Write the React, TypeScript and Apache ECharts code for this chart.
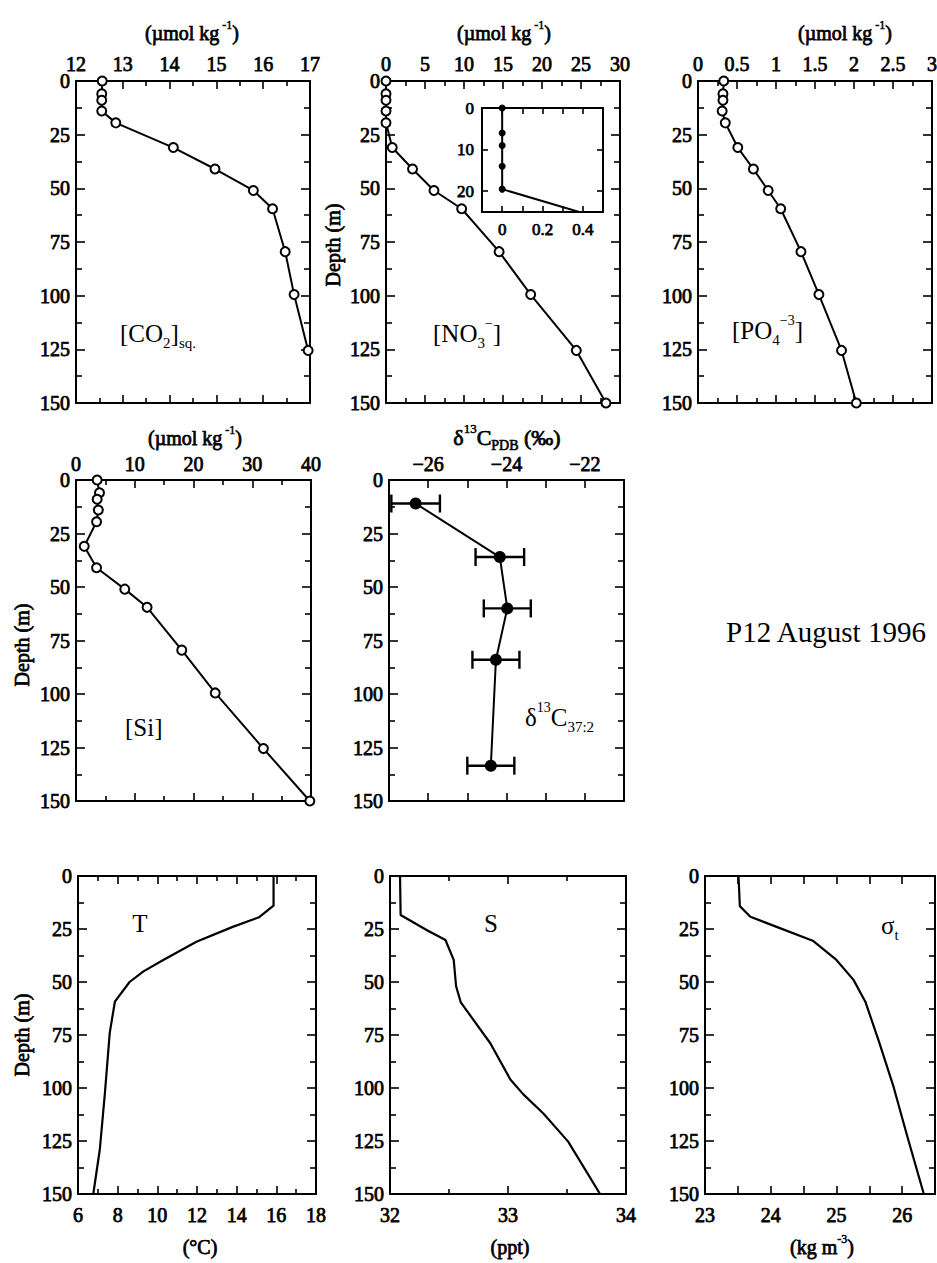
import React, { useEffect, useRef } from "react";
import * as echarts from "echarts";

// ---------------- data ----------------
const DEPTH = [0, 6, 9, 14, 19.5, 31, 41, 51, 59.5, 79.5, 99.5, 125.5, 150];
const CO2 = [12.56, 12.55, 12.55, 12.55, 12.85, 14.08, 14.97, 15.79, 16.2, 16.47, 16.66, 16.96, null];
const NO3 = [0, 0, 0, 0, 0, 0.8, 3.4, 6.15, 9.7, 14.5, 18.55, 24.4, 28.2];
const PO4 = [0.33, 0.32, 0.32, 0.31, 0.35, 0.51, 0.71, 0.9, 1.06, 1.32, 1.55, 1.84, 2.03];
const SI = [3.6, 4.0, 3.6, 3.8, 3.5, 1.4, 3.5, 8.3, 12.1, 18.0, 23.7, 31.9, 39.8];
const INSET_DEPTH = [0, 6, 9, 14, 19.5, 31];
const INSET_NO3 = [0, 0, 0, 0, 0, 0.8];

const D13C_DEPTH = [11, 36, 60, 84, 133.5];
const D13C = [-26.32, -24.17, -23.98, -24.27, -24.4];
const D13C_ERR = [0.62, 0.62, 0.6, 0.6, 0.6];

const T_DEPTH = [0, 14, 19.5, 24, 31, 39.6, 45, 50, 59.3, 74, 102, 129, 150];
const T_VAL = [15.86, 15.86, 15.12, 13.8, 11.97, 10.3, 9.3, 8.6, 7.86, 7.6, 7.36, 7.1, 6.77];
const S_DEPTH = [0, 18.4, 25.5, 30.2, 39.6, 52, 59.6, 78.9, 96, 103, 112, 125.3, 150];
const S_VAL = [32.085, 32.09, 32.31, 32.47, 32.54, 32.56, 32.6, 32.85, 33.02, 33.13, 33.3, 33.51, 33.78];
const SIG_DEPTH = [0, 14.2, 19.2, 24, 30.5, 39.6, 49, 59.3, 77.4, 99.5, 123, 150];
const SIG_VAL = [23.51, 23.53, 23.69, 24.09, 24.64, 25.0, 25.26, 25.44, 25.64, 25.87, 26.08, 26.33];

// tick labels
const DEPTH_TICKS = [0, 25, 50, 75, 100, 125, 150];
const CO2_TICKS = [12, 13, 14, 15, 16, 17];
const NO3_TICKS = [0, 5, 10, 15, 20, 25, 30];
const PO4_TICKS = [0, 0.5, 1, 1.5, 2, 2.5, 3];
const SI_TICKS = [0, 10, 20, 30, 40];
const D13C_TICKS = [-26, -24, -22];
const T_TICKS = [6, 8, 10, 12, 14, 16, 18];
const S_TICKS = [32, 33, 34];
const SIG_TICKS = [23, 24, 25, 26];
const INSET_X_TICKS = [0, 0.2, 0.4];
const INSET_Y_TICKS = [0, 10, 20];

// ---------------- styling helpers ----------------
const FONT = "Liberation Serif";
const INK = "#000";
const BOLD_W = 0.75; // simulated heavy scan weight (stroke around glyphs)

type Rng = { min: number; max: number; step: number; minor: number; ticks: number[]; len: number };

function fmt(v: number) {
  const r = Math.round(v * 1000) / 1000;
  return r < 0 ? "\u2212" + String(-r) : String(r);
}

function axis(gi: number, r: Rng, pos: string, showLabel: boolean, inverse: boolean, margin: number, fontSize: number) {
  const has = (v: number) => r.ticks.some((t) => Math.abs(t - v) < 1e-6);
  return {
    type: "value",
    gridIndex: gi,
    position: pos,
    min: r.min,
    max: r.max,
    interval: r.step,
    inverse,
    axisLine: { show: true, onZero: false, lineStyle: { color: INK, width: 2 } },
    axisTick: { show: true, inside: true, length: r.len, lineStyle: { color: INK, width: 1.6 } },
    minorTick: {
      show: r.minor > 1,
      splitNumber: r.minor,
      length: Math.round(r.len * 0.65),
      lineStyle: { color: INK, width: 1.6 },
    },
    splitLine: { show: false },
    minorSplitLine: { show: false },
    axisLabel: {
      show: showLabel,
      margin,
      color: INK,
      fontFamily: FONT,
      fontSize,
      lineHeight: Math.round(fontSize * 0.8),
      fontWeight: "normal",
      textBorderColor: INK,
      textBorderWidth: BOLD_W,
      showMinLabel: true,
      showMaxLabel: true,
      formatter: (v: number) => (has(v) ? fmt(v) : ""),
    },
  };
}

function buildOption() {
  const opt: any = {
    animation: false,
    backgroundColor: "#fff",
    grid: [],
    xAxis: [],
    yAxis: [],
    series: [],
    graphic: [],
  };

  const DEPTH_R: Rng = { min: 0, max: 150, step: 25, minor: 2, ticks: DEPTH_TICKS, len: 9 };

  function panel(box: any, xr: Rng, yr: Rng, xPos: "top" | "bottom", xMargin: number, yMargin: number, fs: number) {
    const gi = opt.grid.length;
    opt.grid.push({ ...box, show: true, backgroundColor: "#fff", borderWidth: 0, containLabel: false, outerBoundsMode: "none" });
    const xi = opt.xAxis.length;
    opt.xAxis.push(axis(gi, xr, xPos, true, false, xMargin, fs));
    opt.xAxis.push(axis(gi, xr, xPos === "top" ? "bottom" : "top", false, false, 0, fs));
    const yi = opt.yAxis.length;
    opt.yAxis.push(axis(gi, yr, "left", true, true, yMargin, fs));
    opt.yAxis.push(axis(gi, yr, "right", false, true, 0, fs));
    return { xi, yi };
  }

  const openSym = {
    symbol: "circle",
    symbolSize: 9,
    itemStyle: { color: "#fff", borderColor: INK, borderWidth: 2 },
  };

  function profile(ax: any, xs: (number | null)[], ys: number[], extra: any) {
    const data = ys.map((d, i) => [xs[i], d]).filter((p) => p[0] !== null && p[0] !== undefined);
    opt.series.push({
      type: "line",
      xAxisIndex: ax.xi,
      yAxisIndex: ax.yi,
      data,
      silent: true,
      clip: false,
      lineStyle: { color: INK, width: 2 },
      symbol: "none",
      ...extra,
    });
  }

  const FS = 20;

  // top row
  const aCO2 = panel({ left: 76, top: 81, width: 234, height: 322 }, { min: 12, max: 17, step: 1, minor: 2, ticks: CO2_TICKS, len: 8 }, DEPTH_R, "top", 9, 6, FS);
  profile(aCO2, CO2, DEPTH, openSym);

  const aNO3 = panel({ left: 386, top: 81, width: 234, height: 322 }, { min: 0, max: 30, step: 5, minor: 2, ticks: NO3_TICKS, len: 8 }, DEPTH_R, "top", 9, 6, FS);
  profile(aNO3, NO3, DEPTH, openSym);

  const aPO4 = panel({ left: 698, top: 81, width: 234, height: 322 }, { min: 0, max: 3, step: 0.5, minor: 2, ticks: PO4_TICKS, len: 8 }, DEPTH_R, "top", 9, 6, FS);
  profile(aPO4, PO4, DEPTH, openSym);

  // inset
  const aIn = panel(
    { left: 482, top: 108, width: 121, height: 104 },
    { min: -0.1, max: 0.5, step: 0.1, minor: 1, ticks: INSET_X_TICKS, len: 6 },
    { min: 0, max: 25, step: 10, minor: 1, ticks: INSET_Y_TICKS, len: 6 },
    "bottom",
    10,
    8,
    17
  );
  profile(aIn, INSET_NO3, INSET_DEPTH, {
    clip: true,
    symbol: "circle",
    symbolSize: 7,
    itemStyle: { color: INK },
  });

  // middle row
  const aSi = panel({ left: 76, top: 480, width: 235, height: 321 }, { min: 0, max: 40, step: 10, minor: 2, ticks: SI_TICKS, len: 8 }, DEPTH_R, "top", 8, 6, FS);
  profile(aSi, SI, DEPTH, openSym);

  const aC = panel({ left: 389, top: 480, width: 235, height: 321 }, { min: -27, max: -21, step: 1, minor: 1, ticks: D13C_TICKS, len: 8 }, DEPTH_R, "top", 8, 6, FS);
  opt.series.push({
    type: "custom",
    xAxisIndex: aC.xi,
    yAxisIndex: aC.yi,
    silent: true,
    clip: false,
    data: D13C.map((v, i) => [v, D13C_DEPTH[i], D13C_ERR[i]]),
    encode: { x: 0, y: 1 },
    renderItem: (_p: any, api: any) => {
      const x = api.value(0);
      const y = api.value(1);
      const e = api.value(2);
      const a = api.coord([x - e, y]);
      const b = api.coord([x + e, y]);
      const st = { stroke: INK, lineWidth: 2.4 };
      return {
        type: "group",
        children: [
          { type: "line", shape: { x1: a[0], y1: a[1], x2: b[0], y2: b[1] }, style: st },
          { type: "line", shape: { x1: a[0], y1: a[1] - 9, x2: a[0], y2: a[1] + 9 }, style: st },
          { type: "line", shape: { x1: b[0], y1: b[1] - 9, x2: b[0], y2: b[1] + 9 }, style: st },
        ],
      };
    },
  });
  profile(aC, D13C, D13C_DEPTH, { symbol: "circle", symbolSize: 12, itemStyle: { color: INK }, z: 3 });

  // bottom row
  const aT = panel({ left: 78, top: 876, width: 238, height: 318 }, { min: 6, max: 18, step: 2, minor: 2, ticks: T_TICKS, len: 8 }, DEPTH_R, "bottom", 13, 6, FS);
  profile(aT, T_VAL, T_DEPTH, { lineStyle: { color: INK, width: 2.2 } });

  const aS = panel({ left: 390, top: 876, width: 236, height: 318 }, { min: 32, max: 34, step: 1, minor: 2, ticks: S_TICKS, len: 8 }, DEPTH_R, "bottom", 13, 6, FS);
  profile(aS, S_VAL, S_DEPTH, { lineStyle: { color: INK, width: 2.2 } });

  const aSig = panel({ left: 705, top: 876, width: 230, height: 318 }, { min: 23, max: 26.5, step: 0.5, minor: 1, ticks: SIG_TICKS, len: 8 }, DEPTH_R, "bottom", 13, 6, FS);
  profile(aSig, SIG_VAL, SIG_DEPTH, { lineStyle: { color: INK, width: 2.2 } });

  // ---------------- texts ----------------
  const RL = {
    b: { fontFamily: FONT, fontSize: 25, fill: INK, lineHeight: 34 },
    sub: { fontFamily: FONT, fontSize: 15, fill: INK, lineHeight: 16, verticalAlign: "bottom" },
    sup: { fontFamily: FONT, fontSize: 14, fill: INK, lineHeight: 16, verticalAlign: "top" },
  };
  const bold = { stroke: INK, lineWidth: BOLD_W };
  const RU = {
    u: { fontFamily: FONT, fontSize: 20, fill: INK, lineHeight: 28, ...bold },
    us: { fontFamily: FONT, fontSize: 12, fill: INK, lineHeight: 13, verticalAlign: "top", stroke: INK, lineWidth: 0.5 },
    ub: { fontFamily: FONT, fontSize: 12, fill: INK, lineHeight: 13, verticalAlign: "bottom", stroke: INK, lineWidth: 0.5 },
  };
  const RC = {
    u: { fontFamily: FONT, fontSize: 22, fill: INK, lineHeight: 30, ...bold },
    us: { fontFamily: FONT, fontSize: 13, fill: INK, lineHeight: 14, verticalAlign: "top", stroke: INK, lineWidth: 0.5 },
    ub: { fontFamily: FONT, fontSize: 14, fill: INK, lineHeight: 14, verticalAlign: "bottom", stroke: INK, lineWidth: 0.6 },
  };

  function rt(x: number, y: number, text: string, rich: any, align = "left", rotation = 0) {
    return {
      type: "text",
      x,
      y,
      rotation,
      silent: true,
      style: {
        text,
        rich,
        align,
        textAlign: align,
        verticalAlign: "middle",
        textVerticalAlign: "middle",
        fill: INK,
        fontFamily: FONT,
      },
    };
  }

  const umol = "{u|(\u00b5mol kg}{us| -1}{u|)}";
  opt.graphic.push(rt(192, 33, umol, RU, "center"));
  opt.graphic.push(rt(504, 33, umol, RU, "center"));
  opt.graphic.push(rt(845, 33, umol, RU, "center"));
  opt.graphic.push(rt(195, 438, umol, RU, "center"));
  opt.graphic.push(rt(507, 437, "{u|\u03b4}{us|13}{u|C}{ub|PDB}{u| (\u2030)}", RC, "center"));
  opt.graphic.push(rt(200, 1247, "{u|(\u00b0C)}", RU, "center"));
  opt.graphic.push(rt(510, 1247, "{u|(ppt)}", RU, "center"));
  opt.graphic.push(rt(822, 1247, "{u|(kg m}{us|-3}{u|)}", RU, "center"));

  opt.graphic.push(rt(120, 333, "{b|[CO}{sub|2}{b|]}{sub|sq.}", RL));
  opt.graphic.push(rt(433, 333, "{b|[NO}{sub|3}{sup|\u2212}{b|]}", RL));
  opt.graphic.push(rt(732, 330, "{b|[PO}{sub|4}{sup|\u22123}{b|]}", RL));
  opt.graphic.push(rt(125, 727, "{b|[Si]}", RL));
  opt.graphic.push(rt(525, 717, "{b|\u03b4}{sup|13}{b|C}{sub|37:2}", RL));
  opt.graphic.push(rt(140, 923, "{b|T}", RL, "center"));
  opt.graphic.push(rt(491, 923, "{b|S}", RL, "center"));
  opt.graphic.push(rt(881, 925, "{b|\u03c3}{sub|t}", RL));

  const RD = { d: { fontFamily: FONT, fontSize: 20, fill: INK, ...bold } };
  opt.graphic.push(rt(333, 245, "{d|Depth (m)}", RD, "center", Math.PI / 2));
  opt.graphic.push(rt(22, 645, "{d|Depth (m)}", RD, "center", Math.PI / 2));
  opt.graphic.push(rt(22, 1035, "{d|Depth (m)}", RD, "center", Math.PI / 2));

  const RP = { p: { fontFamily: FONT, fontSize: 29, fill: INK } };
  opt.graphic.push(rt(826, 632, "{p|P12 August 1996}", RP, "center"));

  return opt;
}

export default function App() {
  const ref = useRef<HTMLDivElement>(null);
  useEffect(() => {
    document.body.style.margin = "0";
    const chart = echarts.init(ref.current as HTMLDivElement, undefined, { renderer: "svg", width: 937, height: 1263 });
    chart.setOption(buildOption());
    return () => chart.dispose();
  }, []);
  return <div ref={ref} style={{ position: "absolute", left: 0, top: 0, width: 937, height: 1263 }} />;
}
